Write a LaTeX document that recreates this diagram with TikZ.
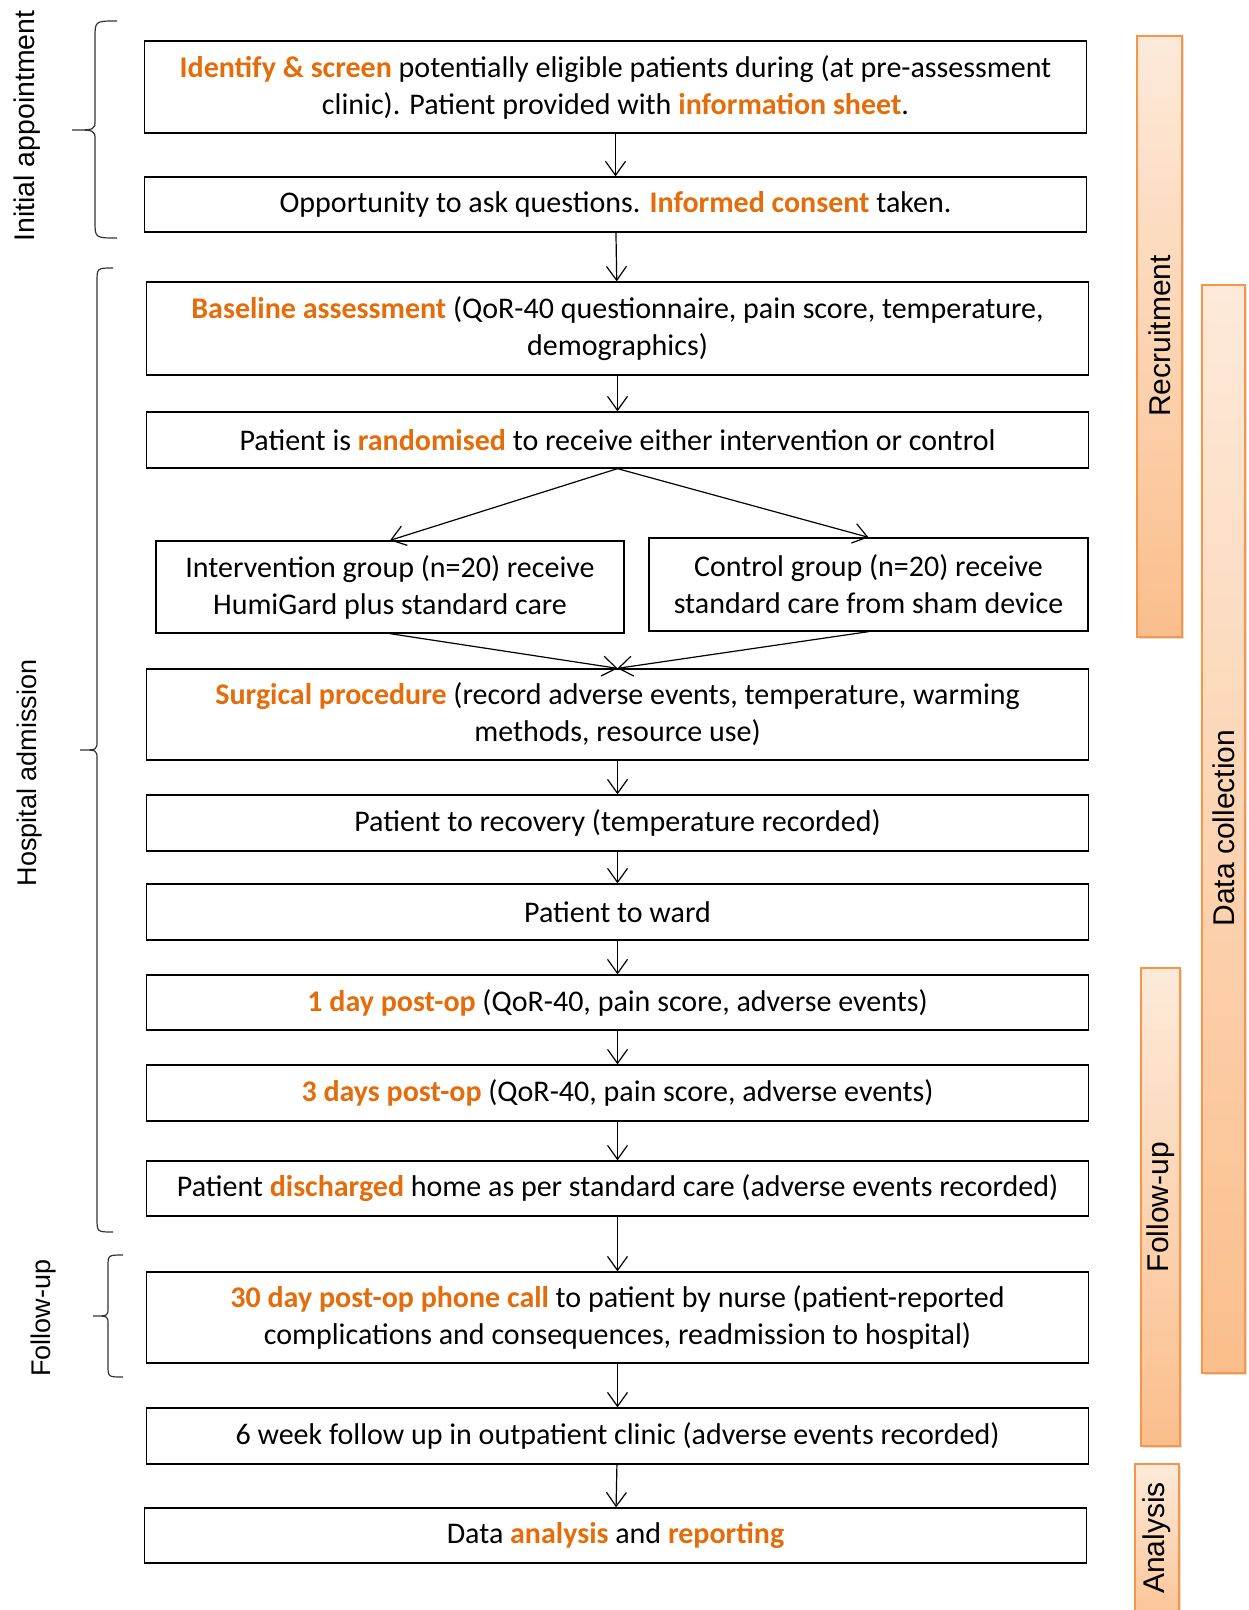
\documentclass[tikz,border=0pt]{standalone}
\usepackage{fontspec}
\setmainfont{Carlito}
\newfontfamily\sidefont{Liberation Sans}
\usetikzlibrary{arrows.meta,shadows}
\definecolor{hlorange}{HTML}{E46C0A}
\definecolor{barline}{HTML}{F79646}
\definecolor{bartop}{HTML}{FDEADA}
\definecolor{barbot}{HTML}{FBBE8C}
\newcommand\key[1]{\textbf{\color{hlorange}#1}}
\begin{document}
\begin{tikzpicture}[x=0.5pt,y=-0.5pt,
  box/.style={draw, line width=0.65pt, align=center, inner sep=0pt,
    font=\fontsize{15}{18.5}\selectfont},
  wide/.style={box, minimum width=471pt},
  flow/.style={-{Straight Barb[length=7pt,width=10pt]}, line width=0.6pt},
  bar/.style={draw=barline, line width=0.8pt, top color=bartop, bottom color=barbot,
    drop shadow={opacity=0.25, shadow xshift=1pt, shadow yshift=-1pt}},
  barlabel/.style={rotate=90, font=\sidefont\fontsize{15}{18}\selectfont},
  sidelabel/.style={rotate=90, font=\sidefont\fontsize{13.5}{16}\selectfont},
  brace/.style={line width=0.6pt, black!80}]
\useasboundingbox (0,0) rectangle (1248,1610);

% side bars
\draw[bar] (1202,285) rectangle (1245,1373);
\draw[bar] (1137,36) rectangle (1182,637);
\draw[bar] (1141,968) rectangle (1180,1446);
\draw[bar] (1135,1464) rectangle (1179,1640);
\node[barlabel] (lrec) at (1160,336) {Recruitment};
\node[barlabel] (ldata) at (1224,828) {Data collection};
\node[barlabel] (lfol) at (1161,1207) {Follow-up};
\node[barlabel] (lana) at (1157,1538) {Analysis};

% flow boxes
\node[wide, minimum height=46pt] (b1) at (615.5,87)
  {\key{Identify \& screen} potentially eligible patients during (at pre-assessment\\
   clinic). Patient provided with \key{information sheet}.};
\node[wide, minimum height=27.5pt] (b2) at (615.5,204.5)
  {Opportunity to ask questions. \key{Informed consent} taken.};
\node[wide, minimum height=46.5pt] (b3) at (617.5,328.5)
  {\key{Baseline assessment} (QoR-40 questionnaire, pain score, temperature,\\ demographics)};
\node[wide, minimum height=28pt] (b4) at (617.5,440)
  {Patient is \key{randomised} to receive either intervention or control};
\node[box, minimum width=234pt, minimum height=46pt] (b5) at (390,587)
  {Intervention group (n=20) receive\\ HumiGard plus standard care};
\node[box, minimum width=219.5pt, minimum height=46.5pt] (b6) at (868.5,584.5)
  {Control group (n=20) receive\\ standard care from sham device};
\node[wide, minimum height=45.5pt] (b7) at (617.5,714.5)
  {\key{Surgical procedure} (record adverse events, temperature, warming\\ methods, resource use)};
\node[wide, minimum height=28pt] (b8) at (617.5,823)
  {Patient to recovery (temperature recorded)};
\node[wide, minimum height=28pt] (b9) at (617.5,912)
  {Patient to ward};
\node[wide, minimum height=27.5pt] (b10) at (617.5,1002.5)
  {\key{1 day post-op} (QoR-40, pain score, adverse events)};
\node[wide, minimum height=28pt] (b11) at (617.5,1093)
  {\key{3 days post-op} (QoR-40, pain score, adverse events)};
\node[wide, minimum height=27.5pt] (b12) at (617.5,1188.5)
  {Patient \key{discharged} home as per standard care (adverse events recorded)};
\node[wide, minimum height=45.5pt] (b13) at (617.5,1317.5)
  {\key{30 day post-op phone call} to patient by nurse (patient-reported\\
   complications and consequences, readmission to hospital)};
\node[wide, minimum height=28pt] (b14) at (617.5,1436)
  {6 week follow up in outpatient clinic (adverse events recorded)};
\node[wide, minimum height=27.5pt] (b15) at (615.5,1535.5)
  {Data \key{analysis} and \key{reporting}};

% connectors
\draw[flow] (b1) -- (b2);
\draw[flow] (b2) -- (b3);
\draw[flow] (b3) -- (b4);
\draw[flow] (b4.south) -- (b5.north);
\draw[flow] (b4.south) -- (b6.north);
\draw[flow] (b5.south) -- (b7.north);
\draw[flow] (b6.south) -- (b7.north);
\draw[flow] (b7) -- (b8);
\draw[flow] (b8) -- (b9);
\draw[flow] (b9) -- (b10);
\draw[flow] (b10) -- (b11);
\draw[flow] (b11) -- (b12);
\draw[flow] (b12) -- (b13);
\draw[flow] (b13) -- (b14);
\draw[flow] (b14) -- (b15);

% braces and stage labels on the left
\draw[brace] (117,21) .. controls (95,21) .. (95,38) -- (95,120)
  .. controls (95,130) .. (72,130) .. controls (95,130) .. (95,140)
  -- (95,221) .. controls (95,238) .. (117,238);
\node[sidelabel, font=\sidefont\fontsize{14.2}{16}\selectfont] (lini) at (27,126) {Initial appointment};

\draw[brace] (113,268) .. controls (97,268) .. (97,282) -- (97,741)
  .. controls (97,750) .. (80,750) .. controls (97,750) .. (97,759)
  -- (97,1218) .. controls (97,1232) .. (113,1232);
\node[sidelabel] (lhos) at (30,773) {Hospital admission};

\draw[brace] (123,1255) .. controls (108,1255) .. (108,1267) -- (108,1308)
  .. controls (108,1316) .. (93,1316) .. controls (108,1316) .. (108,1324)
  -- (108,1365) .. controls (108,1377) .. (123,1377);
\node[sidelabel] (lfup) at (44,1318) {Follow-up};
\end{tikzpicture}
\end{document}
